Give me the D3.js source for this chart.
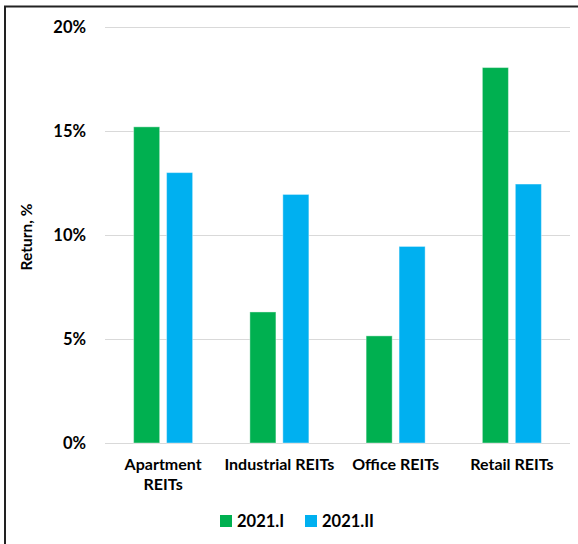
<!DOCTYPE html>
<html><head><meta charset="utf-8">
<script src="https://cdn.jsdelivr.net/npm/d3@7"></script>
<style>body{margin:0;background:#fff}svg{display:block}</style>
</head><body>
<script>
const categories = ["Apartment REITs", "Industrial REITs", "Office REITs", "Retail REITs"];
const seriesNames = ["2021.I", "2021.II"];
const values2021I = [15.2, 6.3, 5.15, 18.05];
const values2021II = [13.0, 11.95, 9.45, 12.45];
const yTicks = [0, 5, 10, 15, 20];
const colors = ["#00B050", "#00B0F0"];
const titleText = "REIT Returns by Property Type, Average";

const W = 578, H = 544;
const font = "Lato, 'Open Sans', sans-serif";
const svg = d3.select("body").append("svg").attr("width", W).attr("height", H);

// outer border (extends beyond view)
svg.append("rect").attr("x", 5).attr("y", 6.5).attr("width", 600).attr("height", 600)
  .attr("fill", "none").attr("stroke", "#222").attr("stroke-width", 2);

// clipped title (only descenders visible, as in the reference)
svg.append("text").attr("x", 300).attr("y", -4).attr("text-anchor", "middle")
  .attr("font-family", font).attr("font-weight", "bold").attr("font-size", 20)
  .text(titleText);

const y = d3.scaleLinear().domain([0, 20]).range([443, 27]);
const x0 = d3.scaleBand().domain(categories).range([105, 570]).padding(0);
const groupW = 59;
const x1 = d3.scaleBand().domain(seriesNames).range([0, groupW]).paddingInner(0.21).paddingOuter(0);

// gridlines
svg.append("g").selectAll("line").data(yTicks).join("line")
  .attr("x1", 105).attr("x2", 570)
  .attr("y1", d => y(d) + 0.5).attr("y2", d => y(d) + 0.5)
  .attr("stroke", "#d9d9d9").attr("stroke-width", 1);

// y axis labels via d3 axis
const yAxis = d3.axisLeft(y).tickValues(yTicks).tickFormat(d => d + "%").tickSize(0).tickPadding(0);
const yg = svg.append("g").attr("transform", "translate(86,0)").call(yAxis);
yg.select(".domain").remove();
yg.selectAll("text").attr("font-family", font).attr("font-weight", "bold")
  .attr("font-size", 16.5).attr("fill", "#000");

// y title
svg.append("text").attr("transform", "translate(32,237) rotate(-90)")
  .attr("text-anchor", "middle").attr("font-family", font).attr("font-weight", "bold")
  .attr("font-size", 15.5).text("Return, %");

// bars
const data = categories.map((c, i) => ({c, vals: [values2021I[i], values2021II[i]]}));
const groups = svg.append("g").selectAll("g").data(data).join("g")
  .attr("transform", d => `translate(${x0(d.c) + x0.bandwidth() / 2 - groupW / 2},0)`);
groups.selectAll("rect").data(d => d.vals.map((v, j) => ({s: seriesNames[j], v, j}))).join("rect")
  .attr("x", d => x1(d.s)).attr("width", x1.bandwidth())
  .attr("y", d => y(d.v)).attr("height", d => y(0) - y(d.v))
  .attr("fill", d => colors[d.j])
  .attr("stroke", "#ffffff").attr("stroke-opacity", 0.4).attr("stroke-width", 1);

// x axis labels
const xAxis = d3.axisBottom(x0).tickSize(0).tickPadding(0);
const xg = svg.append("g").attr("transform", "translate(0,459)").call(xAxis);
xg.select(".domain").remove();
xg.selectAll("text").attr("font-family", font).attr("font-weight", "bold")
  .attr("font-size", 16).attr("fill", "#000").attr("dy", "0.71em")
  .each(function(d) {
    const t = d3.select(this);
    const maxW = 116;
    t.text(d);
    if (this.getComputedTextLength() > maxW) {
      const words = d.split(" ");
      t.text(null);
      words.forEach((w, i) => {
        t.append("tspan").attr("x", 0).attr("dy", i === 0 ? "0.71em" : "1.25em").text(w);
      });
    }
  });

// legend
const legend = svg.append("g").attr("transform", "translate(220,515)");
const lx = [0, 85];
seriesNames.forEach((s, i) => {
  const g = legend.append("g").attr("transform", `translate(${lx[i]},0)`);
  g.append("rect").attr("width", 12).attr("height", 12).attr("fill", colors[i]);
  g.append("text").attr("x", 17).attr("y", 12).attr("font-family", font)
    .attr("font-weight", "bold").attr("font-size", 16.5).text(s);
});
</script>
</body></html>
